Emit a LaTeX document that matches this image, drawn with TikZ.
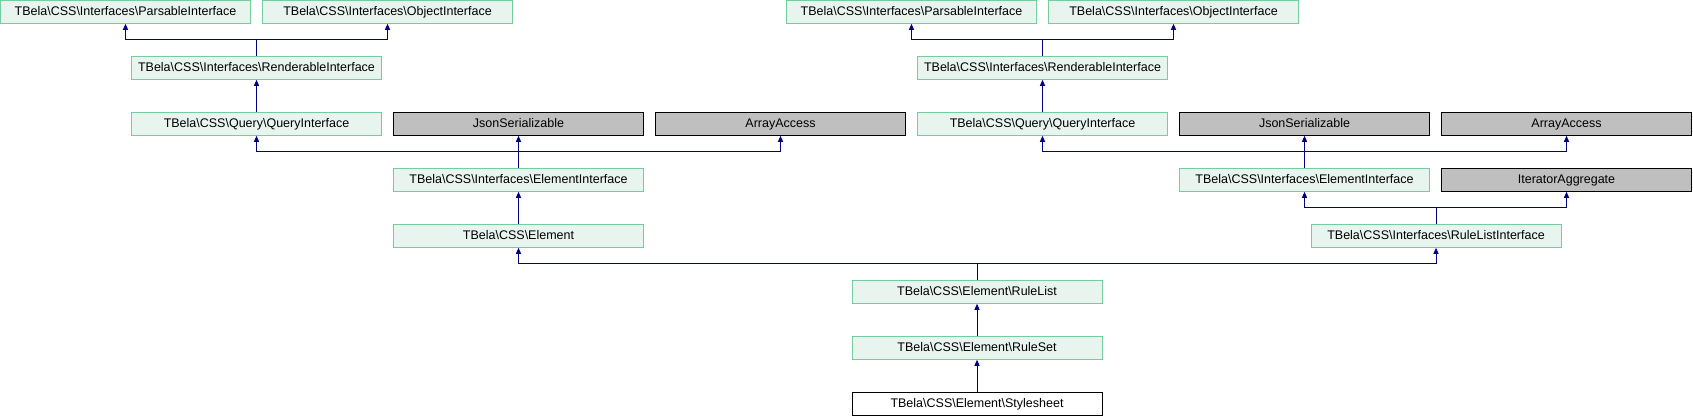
\documentclass[tikz,border=0pt]{standalone}
\usepackage{fontspec}
\setmainfont{Liberation Sans}
\usetikzlibrary{arrows.meta}
\definecolor{boxfill}{HTML}{E8F5EE}
\definecolor{boxline}{HTML}{73CD9C}
\definecolor{extfill}{HTML}{BFBFBF}
\definecolor{inhline}{HTML}{000080}
\begin{document}
\begin{tikzpicture}[x=1pt, y=-1pt, line cap=rect, line join=miter,
	font=\fontsize{12.5}{14}\selectfont,
	cls/.style={draw=boxline, fill=boxfill, line width=1pt, minimum width=250pt, minimum height=23pt, inner sep=0pt, text height=9pt, text depth=2pt},
	ext/.style={cls, draw=black, fill=extfill},
	self/.style={cls, draw=black, fill=white},
	inh/.style={draw=inhline, line width=1pt, -{Triangle[width=5pt,length=6pt]}}]
	% Khung ảnh
	\useasboundingbox (0,0) rectangle (1693,416);
	
	% Nhánh trái: các interface của Element
	\node[cls] (pars1) at (125.5,11.75) {TBela\textbackslash CSS\textbackslash Interfaces\textbackslash ParsableInterface};
	\node[cls] (obj1) at (387.5,11.75) {TBela\textbackslash CSS\textbackslash Interfaces\textbackslash ObjectInterface};
	\node[cls] (rend1) at (256.5,67.75) {TBela\textbackslash CSS\textbackslash Interfaces\textbackslash RenderableInterface};
	\node[cls] (query1) at (256.5,123.75) {TBela\textbackslash CSS\textbackslash Query\textbackslash QueryInterface};
	\node[ext] (json1) at (518.5,123.75) {JsonSerializable};
	\node[ext] (arr1) at (780.5,123.75) {ArrayAccess};
	\node[cls] (elif1) at (518.5,179.75) {TBela\textbackslash CSS\textbackslash Interfaces\textbackslash ElementInterface};
	\node[cls] (elem) at (518.5,235.75) {TBela\textbackslash CSS\textbackslash Element};
	
	% Nhánh phải: các interface của RuleListInterface
	\node[cls] (pars2) at (911.5,11.75) {TBela\textbackslash CSS\textbackslash Interfaces\textbackslash ParsableInterface};
	\node[cls] (obj2) at (1173.5,11.75) {TBela\textbackslash CSS\textbackslash Interfaces\textbackslash ObjectInterface};
	\node[cls] (rend2) at (1042.5,67.75) {TBela\textbackslash CSS\textbackslash Interfaces\textbackslash RenderableInterface};
	\node[cls] (query2) at (1042.5,123.75) {TBela\textbackslash CSS\textbackslash Query\textbackslash QueryInterface};
	\node[ext] (json2) at (1304.5,123.75) {JsonSerializable};
	\node[ext] (arr2) at (1566.5,123.75) {ArrayAccess};
	\node[cls] (elif2) at (1304.5,179.75) {TBela\textbackslash CSS\textbackslash Interfaces\textbackslash ElementInterface};
	\node[ext] (iter) at (1566.5,179.75) {IteratorAggregate};
	\node[cls] (rlif) at (1436,235.75) {TBela\textbackslash CSS\textbackslash Interfaces\textbackslash RuleListInterface};
	
	% Chuỗi lớp ở giữa
	\node[cls] (rlist) at (977,291.75) {TBela\textbackslash CSS\textbackslash Element\textbackslash RuleList};
	\node[cls] (rset) at (977,347.75) {TBela\textbackslash CSS\textbackslash Element\textbackslash RuleSet};
	\node[self] (sheet) at (977,403.75) {TBela\textbackslash CSS\textbackslash Element\textbackslash Stylesheet};
	
	% Mũi tên kế thừa (con -> cha)
	\draw[inh] (rend1.north) -- ++(0,-16) -| (pars1.south);
	\draw[inh] (rend1.north) -- ++(0,-16) -| (obj1.south);
	\draw[inh] (query1.north) -- (rend1.south);
	\draw[inh] (elif1.north) -- ++(0,-16) -| (query1.south);
	\draw[inh] (elif1.north) -- (json1.south);
	\draw[inh] (elif1.north) -- ++(0,-16) -| (arr1.south);
	\draw[inh] (elem.north) -- (elif1.south);
	
	\draw[inh] (rend2.north) -- ++(0,-16) -| (pars2.south);
	\draw[inh] (rend2.north) -- ++(0,-16) -| (obj2.south);
	\draw[inh] (query2.north) -- (rend2.south);
	\draw[inh] (elif2.north) -- ++(0,-16) -| (query2.south);
	\draw[inh] (elif2.north) -- (json2.south);
	\draw[inh] (elif2.north) -- ++(0,-16) -| (arr2.south);
	\draw[inh] (rlif.north) -- ++(0,-16) -| (elif2.south);
	\draw[inh] (rlif.north) -- ++(0,-16) -| (iter.south);
	
	\draw[inh] (rlist.north) -- ++(0,-16) -| (elem.south);
	\draw[inh] (rlist.north) -- ++(0,-16) -| (rlif.south);
	\draw[inh] (rset.north) -- (rlist.south);
	\draw[inh] (sheet.north) -- (rset.south);
\end{tikzpicture}
\end{document}
